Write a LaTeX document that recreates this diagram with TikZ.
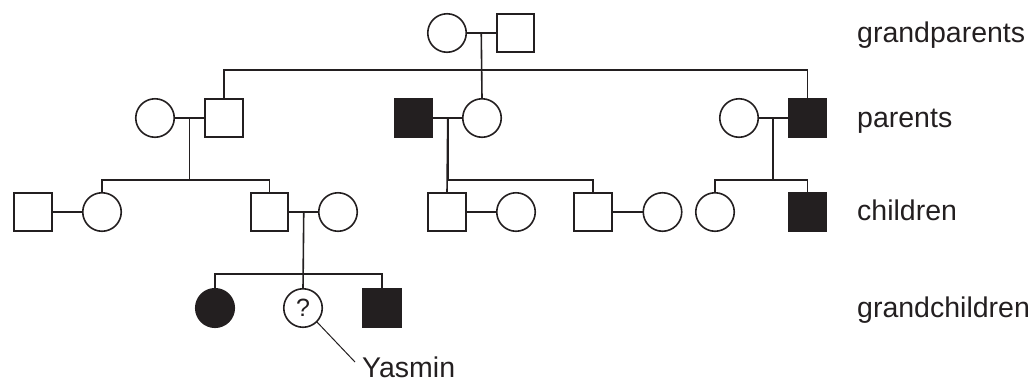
\documentclass[tikz,border=0pt]{standalone}
\usepackage{fontspec}
\setmainfont{Liberation Sans}
\usetikzlibrary{calc}
\definecolor{ink}{RGB}{35,31,32}
\tikzset{
  base/.style={draw=ink, line width=1.6pt, inner sep=0pt, outer sep=0pt},
  fem/.style={base, circle, minimum size=38.5pt},
  mal/.style={base, rectangle, minimum size=37.5pt},
  aff/.style={fill=ink},
  link/.style={draw=ink, line width=1.6pt},
  lbl/.style={anchor=base west, text=ink, font=\fontsize{28.5}{34}\selectfont, inner sep=0pt},
}
\begin{document}
\begin{tikzpicture}[x=1pt,y=-1pt]
\useasboundingbox (0,0) rectangle (1035,381);
% generation 1
\node[fem] (gm) at (447,33) {};
\node[mal] (gf) at (515.5,33) {};
% generation 2
\node[fem] (pLc) at (155,118) {};
\node[mal] (pLs) at (224,118) {};
\node[mal,aff] (pMs) at (413.5,118) {};
\node[fem] (pMc) at (482,118) {};
\node[fem] (pRc) at (739,118) {};
\node[mal,aff] (pRs) at (807.5,118) {};
% generation 3
\node[mal] (c1s) at (33,212) {};
\node[fem] (c1c) at (102,212) {};
\node[mal] (c2s) at (269.5,212) {};
\node[fem] (c2c) at (338,212) {};
\node[mal] (c3s) at (447,212) {};
\node[fem] (c3c) at (516,212) {};
\node[mal] (c4s) at (593,212) {};
\node[fem] (c4c) at (662.5,212) {};
\node[fem] (c5c) at (715,212) {};
\node[mal,aff] (c6s) at (807.5,212) {};
% generation 4
\node[fem,aff] (g1) at (215,308) {};
\node[fem, text=ink, font=\fontsize{25}{30}\selectfont] (q) at (303,308) {?};
\node[mal,aff] (g3) at (382,308) {};
% marriages
\draw[link] (gm) -- (gf);
\draw[link] (pLc) -- (pLs);
\draw[link] (pMs) -- (pMc);
\draw[link] (pRc) -- (pRs);
\draw[link] (c1s) -- (c1c);
\draw[link] (c2s) -- (c2c);
\draw[link] (c3s) -- (c3c);
\draw[link] (c4s) -- (c4c);
\coordinate (mG) at ($(gm)!0.5!(gf)$);
\coordinate (mL) at ($(pLc)!0.5!(pLs)$);
\coordinate (mM) at ($(pMs)!0.5!(pMc)$);
\coordinate (mR) at ($(pRc)!0.5!(pRs)$);
\coordinate (mC) at ($(c2s)!0.5!(c2c)$);
% descent lines
\coordinate (sG) at (mG |- 0,70);
\draw[link] (mG) -- (pMc.north);
\draw[link] (pLs.north) |- (sG) -| (pRs.north);
\coordinate (sL) at (mL |- 0,180);
\draw[link] (mL) -- (sL);
\draw[link] (c1c.north) |- (sL) -| (c2s.north);
\coordinate (sM) at (mM |- 0,180);
\draw[link] (mM) -- (sM);
\draw[link] (sM) -| (c4s.north);
\draw[link] (mM) -- (c3s.north);
\coordinate (sR) at (mR |- 0,180);
\draw[link] (mR) -- (sR);
\draw[link] (c5c.north) |- (sR) -| (c6s.north);
\coordinate (sC) at (mC |- 0,274);
\draw[link] (mC) -- (q.north);
\draw[link] (g1.north) |- (sC) -| (g3.north);
% labels
\node[lbl] (l1) at (857,42) {grandparents};
\node[lbl] (l2) at (857,127) {parents};
\node[lbl] (l3) at (857,220) {children};
\node[lbl] (l4) at (857,317) {grandchildren};
\node[lbl] (yas) at (362,377) {Yasmin};
\coordinate (ye) at (355,362);
\draw[draw=ink, line width=1pt] (q.-45) -- (ye);
\end{tikzpicture}
\end{document}
